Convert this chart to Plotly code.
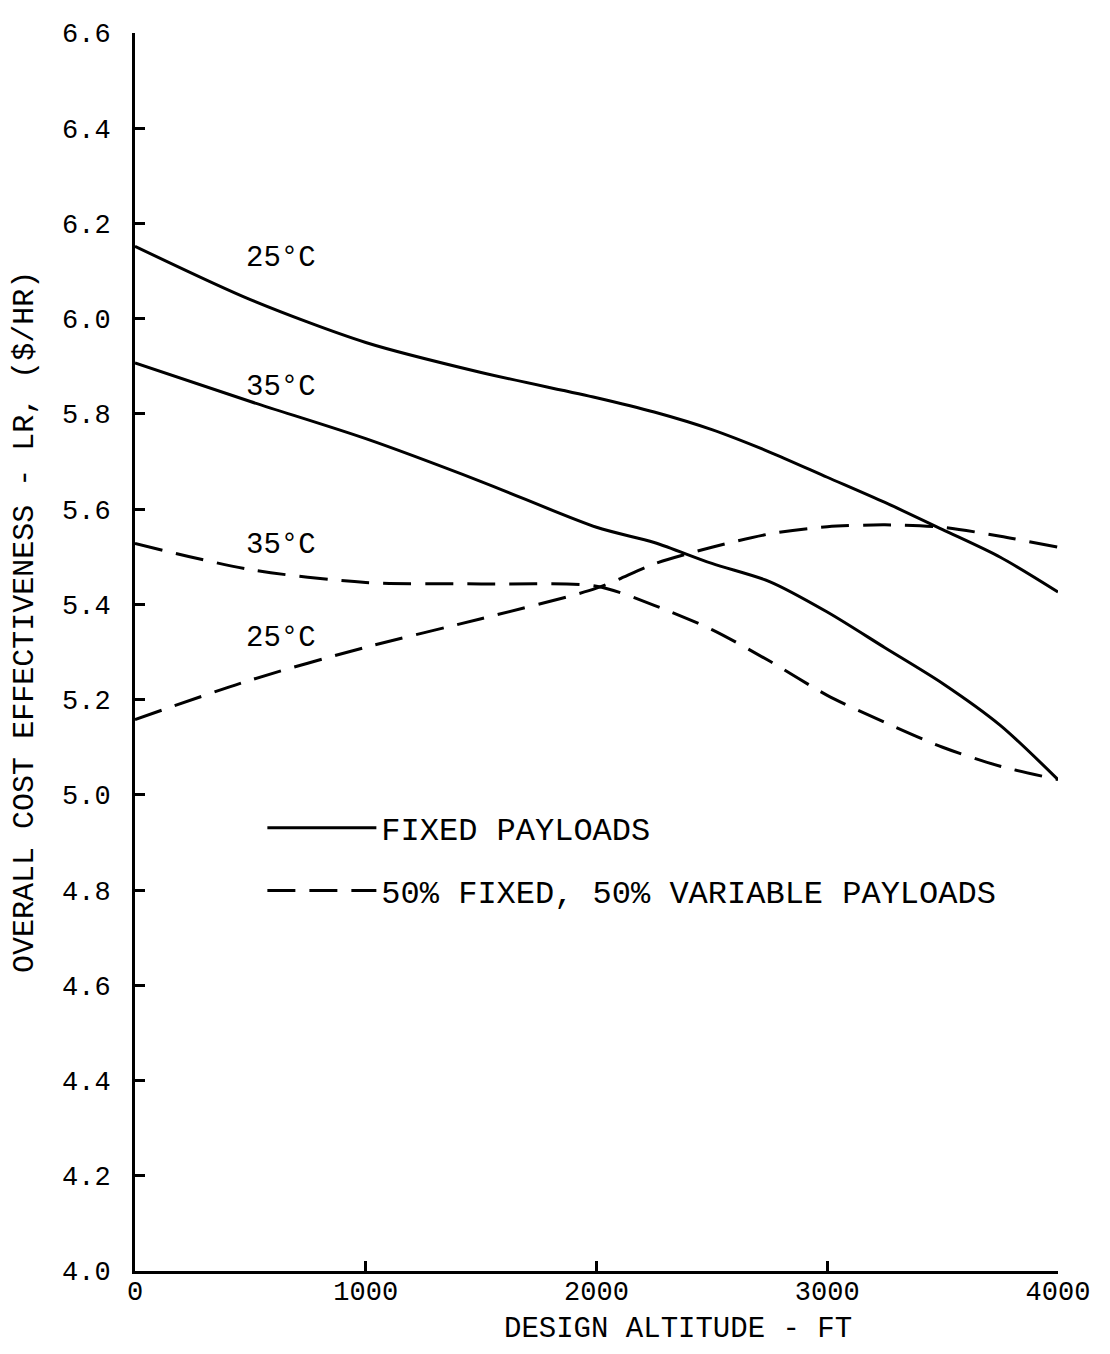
import plotly.graph_objects as go

altitude = [0, 500, 1000, 1500, 2000, 2250, 2500, 2750, 3000, 3250, 3500, 3750, 4000]
fixed_25 = [6.152, 6.040, 5.950, 5.887, 5.834, 5.804, 5.767, 5.720, 5.667, 5.614, 5.557, 5.499, 5.426]
fixed_35 = [5.907, 5.826, 5.748, 5.658, 5.562, 5.530, 5.486, 5.448, 5.384, 5.309, 5.234, 5.146, 5.032]
var_35 = [5.528, 5.473, 5.446, 5.443, 5.438, 5.398, 5.347, 5.281, 5.209, 5.152, 5.100, 5.060, 5.032]
var_25 = [5.158, 5.241, 5.310, 5.370, 5.434, 5.485, 5.520, 5.548, 5.563, 5.567, 5.562, 5.543, 5.520]

x_ticks = [0, 1000, 2000, 3000, 4000]
x_tick_text = ["0", "1000", "2000", "3000", "4000"]
y_ticks = [4.0, 4.2, 4.4, 4.6, 4.8, 5.0, 5.2, 5.4, 5.6, 5.8, 6.0, 6.2, 6.4, 6.6]
y_tick_text = ["4.0", "4.2", "4.4", "4.6", "4.8", "5.0", "5.2", "5.4", "5.6", "5.8", "6.0", "6.2", "6.4", "6.6"]

curve_labels = ["25°C", "35°C", "35°C", "25°C"]
label_x = [631, 631, 631, 631]
label_y = [6.127, 5.855, 5.524, 5.329]

FONT = "Liberation Mono, Courier New, monospace"
DASH = "28px,14px"

fig = go.Figure()
series = [
    (fixed_25, "solid", "FIXED PAYLOADS", True, "fixed"),
    (fixed_35, "solid", "FIXED PAYLOADS", False, "fixed"),
    (var_35, DASH, "50% FIXED, 50% VARIABLE PAYLOADS", True, "var"),
    (var_25, DASH, "50% FIXED, 50% VARIABLE PAYLOADS", False, "var"),
]
for ys, dash, name, show, grp in series:
    fig.add_trace(go.Scatter(
        x=altitude, y=ys, mode="lines", name=name, showlegend=show,
        legendgroup=grp,
        line=dict(color="black", width=3, dash=dash, shape="spline", smoothing=0.8),
    ))

for t, lx, ly in zip(curve_labels, label_x, label_y):
    fig.add_annotation(x=lx, y=ly, text=t, showarrow=False,
                       font=dict(family=FONT, size=29, color="black"))

fig.add_annotation(xref="paper", yref="paper", x=-0.1185, y=0.524,
                   xanchor="center", yanchor="middle",
                   text="OVERALL COST EFFECTIVENESS - LR, ($/HR)", textangle=-90,
                   showarrow=False, font=dict(family=FONT, size=30, color="black"))
fig.add_annotation(xref="paper", yref="paper", x=0.588, y=-0.0472,
                   xanchor="center", yanchor="middle",
                   text="DESIGN ALTITUDE - FT",
                   showarrow=False, font=dict(family=FONT, size=29, color="black"))

fig.update_layout(
    width=1094, height=1338,
    margin=dict(l=127, r=36, t=13, b=75),
    paper_bgcolor="white", plot_bgcolor="white",
    font=dict(family=FONT, color="black"),
    showlegend=True,
    legend=dict(x=0.138, y=0.380, xanchor="left", yanchor="top",
                bgcolor="rgba(0,0,0,0)", traceorder="grouped", tracegroupgap=18,
                itemwidth=109,
                font=dict(family=FONT, size=32, color="black")),
    xaxis=dict(range=[0, 4000], showline=True, linewidth=3, linecolor="black",
               ticks="inside", ticklen=10, tickwidth=3, tickcolor="black",
               tickvals=x_ticks, ticktext=x_tick_text, showgrid=False, zeroline=False,
               ticklabelstandoff=-6,
               tickfont=dict(family=FONT, size=27, color="black")),
    yaxis=dict(range=[4.0, 6.6], showline=True, linewidth=3, linecolor="black",
               ticks="inside", ticklen=10, tickwidth=3, tickcolor="black",
               tickvals=y_ticks, ticktext=y_tick_text, showgrid=False, zeroline=False,
               ticklabelstandoff=16,
               tickfont=dict(family=FONT, size=27, color="black")),
)

fig.write_html("out.html")
